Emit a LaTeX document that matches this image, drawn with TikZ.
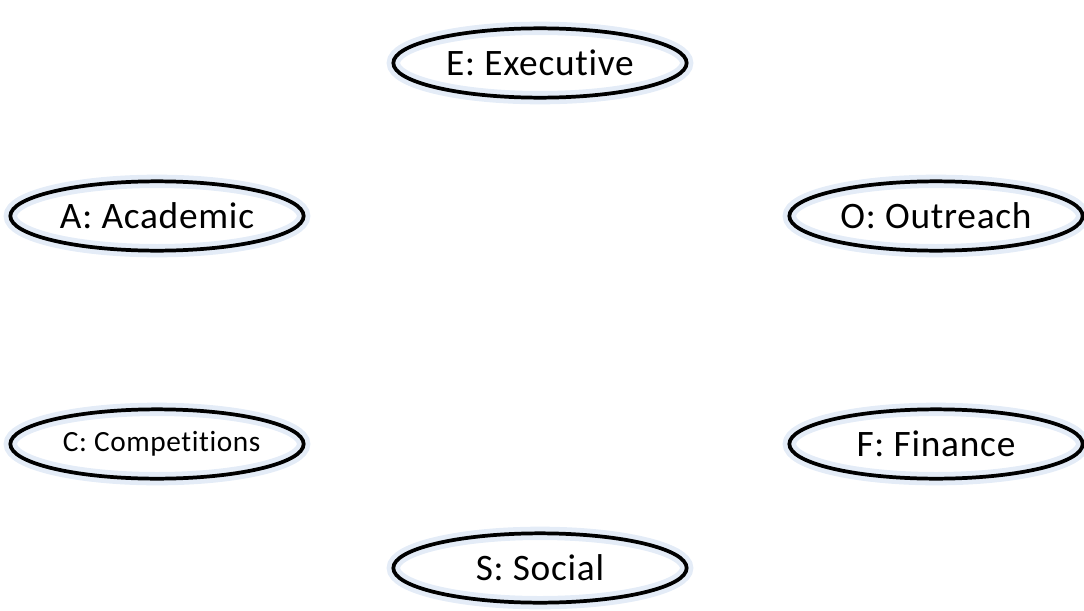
\documentclass[tikz,border=0pt]{standalone}
\usepackage{fontspec}
\setmainfont[Ligatures=NoCommon, LetterSpace=2]{Carlito}
\usetikzlibrary{shapes.geometric}
\definecolor{halo}{RGB}{228,236,247}

\begin{document}
\begin{tikzpicture}[x=0.75pt, y=-0.75pt,
  team/.style={draw, ellipse, line width=2.8pt, inner sep=0pt,
    minimum width=220pt, minimum height=52pt, font=\fontsize{28}{32}\selectfont,
    preaction={draw=halo, line width=10pt}}]

% Frame
\useasboundingbox (0,0) rectangle (1084,610);

% Teams
\node[team] (exec) at (540,63) {E: Executive};
\node[team] (acad) at (157,216) {A: Academic};
\node[team] (outr) at (936,216) {O: Outreach};
\node[team, font=\fontsize{22}{26}\selectfont] (comp) at (157,444) {\kern7pt C: Competitions};
\node[team] (fin) at (936,444) {F: Finance};
\node[team] (soc) at (540,568) {S: Social};

\end{tikzpicture}
\end{document}
